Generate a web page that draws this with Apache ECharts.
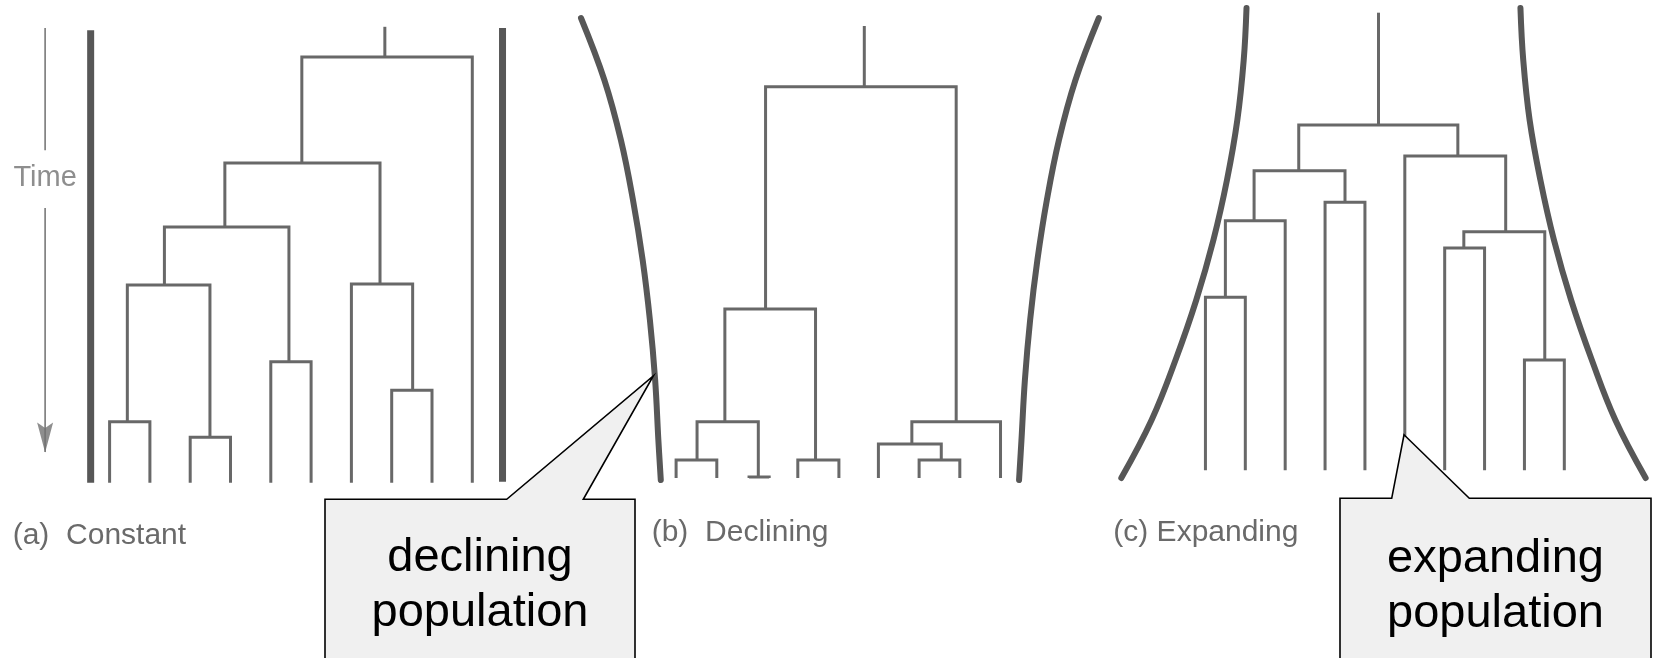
<!DOCTYPE html>
<html>
<head>
<meta charset="utf-8">
<script src="https://cdn.jsdelivr.net/npm/echarts@6/dist/echarts.min.js"></script>
<style>
  html, body { margin: 0; padding: 0; background: #ffffff; }
  #chart { width: 1664px; height: 658px; }
</style>
</head>
<body>
<div id="chart"></div>
<script>
// ---- DATA (x: leaf-position units, t: time units, 0 = top / past, ~100 = present tips) ----
// Each clade: [leftChildX, leftChildEndT, rightChildX, rightChildEndT, nodeT]
const cladesA = [
  [4.77, 31.9, 9, 98.5, 9.8],
  [2.86, 45.2, 6.71, 57.1, 31.9],
  [1.36, 57.3, 4.45, 73.3, 45.2],
  [0.44, 85.8, 2.49, 89.0, 57.3],
  [0, 98.5, 1, 98.5, 85.8],
  [2, 98.5, 3, 98.5, 89.0],
  [4, 98.5, 5, 98.5, 73.3],
  [6, 98.5, 7.52, 79.2, 57.1],
  [7, 98.5, 8, 98.5, 79.2]
];
const rootStemA = [6.83, 3.5, 9.8];            // [x, topT, nodeT]
const boundLeftA = [[-0.47, 4.2], [-0.47, 98.5]];
const boundRightA = [[9.75, 3.75], [9.75, 98.3]];

const cladesB = [
  [2.22, 62.3, 6.95, 85.8, 16.0],
  [1.21, 85.8, 3.46, 93.75, 62.3],
  [0.52, 93.75, 2.04, 97.3, 85.8],
  [0, 97.5, 1.01, 97.5, 93.75],
  [1.81, 97.5, 2.31, 97.5, 97.3],
  [3.02, 97.5, 4.04, 97.5, 93.75],
  [5.85, 90.4, 8.05, 97.5, 85.8],
  [5.02, 97.5, 6.58, 93.75, 90.4],
  [6.03, 97.5, 7.04, 97.5, 93.75]
];
const rootStemB = [4.67, 3.33, 16.0];
const boundLeftB = [[-2.36, 1.67], [-1.78, 14.58], [-1.37, 27.08], [-1.07, 39.58], [-0.83, 52.08], [-0.65, 64.58], [-0.52, 77.08], [-0.44, 89.58], [-0.38, 97.92]];
const boundRightB = [[10.49, 1.67], [9.91, 14.58], [9.50, 27.08], [9.20, 39.58], [8.965, 52.08], [8.785, 64.58], [8.655, 77.08], [8.57, 89.58], [8.51, 97.92]];

const cladesC = [
  [2.34, 33.5, 6.33, 30.4, 23.96],
  [1.22, 43.9, 3.5, 40.06, 33.5],
  [0.5, 59.85, 2, 95.9, 43.9],
  [0, 95.9, 1, 95.9, 59.85],
  [3, 95.9, 4, 95.9, 40.06],
  [5, 95.9, 7.53, 46.2, 30.4],
  [6.48, 49.6, 8.51, 72.9, 46.2],
  [6, 95.9, 7, 95.9, 49.6],
  [8, 95.9, 9, 95.9, 72.9]
];
const rootStemC = [4.34, 0.56, 23.96];
const boundLeftC = [[1.03, -0.42], [0.96, 10.42], [0.80, 22.92], [0.54, 35.42], [0.20, 47.92], [-0.23, 60.42], [-0.75, 72.92], [-1.35, 85.42], [-2.11, 97.5]];
const boundRightC = [[7.90, -0.42], [7.97, 10.42], [8.13, 22.92], [8.40, 35.42], [8.74, 47.92], [9.17, 60.42], [9.69, 72.92], [10.28, 85.42], [11.04, 97.5]];

// Time arrow (panel a coordinates)
const timeArrowX = -1.6;
const timeArrowSegments = [[3.75, 29.2], [41.25, 92.1]];
const timeLabelPos = [-1.6, 35];

const panelLabels = ['(a)  Constant', '(b)  Declining', '(c) Expanding'];
const calloutTexts = ['declining\npopulation', 'expanding\npopulation'];
// callout tips in data coordinates: [gridIndex, x, t]
const calloutTips = [[1, -0.566, 76.25], [2, 4.98, 88.5]];

// ---- BUILD ----
const TREE_COLOR = '#686868';
const BOUND_COLOR = '#575757';

function elbows(clades, stem) {
  const d = clades.map(c => ({ coords: [[c[0], c[1]], [c[0], c[4]], [c[2], c[4]], [c[2], c[3]]] }));
  d.push({ coords: [[stem[0], stem[1]], [stem[0], stem[2]]] });
  return d;
}

const gridLefts = [8.85, 575.35, 1105.75];
const grids = gridLefts.map(l => ({ left: l, top: 10, width: 564.2, height: 480 }));
const xAxes = gridLefts.map((_, i) => ({ type: 'value', gridIndex: i, min: -2.5, max: 11.5, show: false }));
const yAxes = gridLefts.map((_, i) => ({ type: 'value', gridIndex: i, min: 0, max: 100, inverse: true, show: false }));

const series = [];
[[cladesA, rootStemA], [cladesB, rootStemB], [cladesC, rootStemC]].forEach((p, i) => {
  series.push({
    type: 'lines', coordinateSystem: 'cartesian2d', xAxisIndex: i, yAxisIndex: i,
    polyline: true, clip: false, silent: true,
    lineStyle: { color: TREE_COLOR, width: 3, opacity: 1, join: 'miter' },
    data: elbows(p[0], p[1])
  });
});

// constant-size boundaries (panel a)
series.push({
  type: 'lines', coordinateSystem: 'cartesian2d', xAxisIndex: 0, yAxisIndex: 0,
  polyline: true, clip: false, silent: true,
  lineStyle: { color: BOUND_COLOR, width: 7, opacity: 1 },
  data: [{ coords: boundLeftA }, { coords: boundRightA }]
});
// curved boundaries (b), (c)
[[boundLeftB, 1], [boundRightB, 1], [boundLeftC, 2], [boundRightC, 2]].forEach(b => {
  series.push({
    type: 'line', xAxisIndex: b[1], yAxisIndex: b[1], data: b[0],
    smooth: 0.4, showSymbol: false, clip: false, silent: true,
    lineStyle: { color: BOUND_COLOR, width: 6, cap: 'round' }
  });
});

// time arrow
series.push({
  type: 'lines', coordinateSystem: 'cartesian2d', xAxisIndex: 0, yAxisIndex: 0,
  polyline: true, clip: false, silent: true,
  lineStyle: { color: '#808080', width: 1.7, opacity: 1 },
  data: timeArrowSegments.map(s => ({ coords: [[timeArrowX, s[0]], [timeArrowX, s[1]]] }))
});
series.push({
  type: 'scatter', xAxisIndex: 0, yAxisIndex: 0, silent: true, clip: false,
  symbol: 'path://M0,0 L50,100 L100,0 L50,18 Z', symbolSize: [16, 30], symbolOffset: [0, -15],
  itemStyle: { color: '#727272' },
  data: [[timeArrowX, timeArrowSegments[1][1] + 0.1]]
});
series.push({
  type: 'scatter', xAxisIndex: 0, yAxisIndex: 0, silent: true, clip: false,
  symbolSize: 1, itemStyle: { color: 'rgba(0,0,0,0)' },
  label: { show: true, position: 'inside', formatter: 'Time', fontSize: 29,
           fontFamily: '"Liberation Sans", Arial, sans-serif', color: '#727272' },
  data: [timeLabelPos]
});

const chart = echarts.init(document.getElementById('chart'), null, { renderer: 'canvas' });
chart.setOption({
  backgroundColor: '#ffffff',
  animation: false,
  grid: grids, xAxis: xAxes, yAxis: yAxes,
  series: series
});

// ---- annotations ----
const labelFont = '30px "Liberation Sans", Arial, sans-serif';
const labelPos = [[12.7, 536], [651.7, 533], [1113.3, 533]];
const graphics = panelLabels.map((t, i) => ({
  type: 'text', x: labelPos[i][0], y: labelPos[i][1], z: 50, silent: true,
  style: { text: t, font: labelFont, fill: '#6a6a6a', verticalAlign: 'middle' }
}));

const boxes = [
  { l: 325, r: 635, top: 499.3, b1: 506.7, b2: 583.3, ty: 586 },
  { l: 1340, r: 1651, top: 498.3, b1: 1391.7, b2: 1469.3, ty: 587 }
];
boxes.forEach((bx, i) => {
  const tp = calloutTips[i];
  const tip = chart.convertToPixel({ gridIndex: tp[0] }, [tp[1], tp[2]]);
  graphics.push({
    type: 'polygon', z: 100, silent: true,
    shape: { points: [[bx.l, bx.top], [bx.b1, bx.top], tip, [bx.b2, bx.top], [bx.r, bx.top], [bx.r, 700], [bx.l, 700]] },
    style: { fill: '#f0f0f0', stroke: '#000000', lineWidth: 1.6, lineJoin: 'miter' }
  });
  graphics.push({
    type: 'text', z: 101, silent: true, x: (bx.l + bx.r) / 2, y: bx.ty,
    style: { text: calloutTexts[i], font: '47px "Liberation Sans", Arial, sans-serif', fill: '#000000',
             align: 'center', verticalAlign: 'middle', lineHeight: 55 }
  });
});
chart.setOption({ graphic: graphics });
</script>
</body>
</html>
